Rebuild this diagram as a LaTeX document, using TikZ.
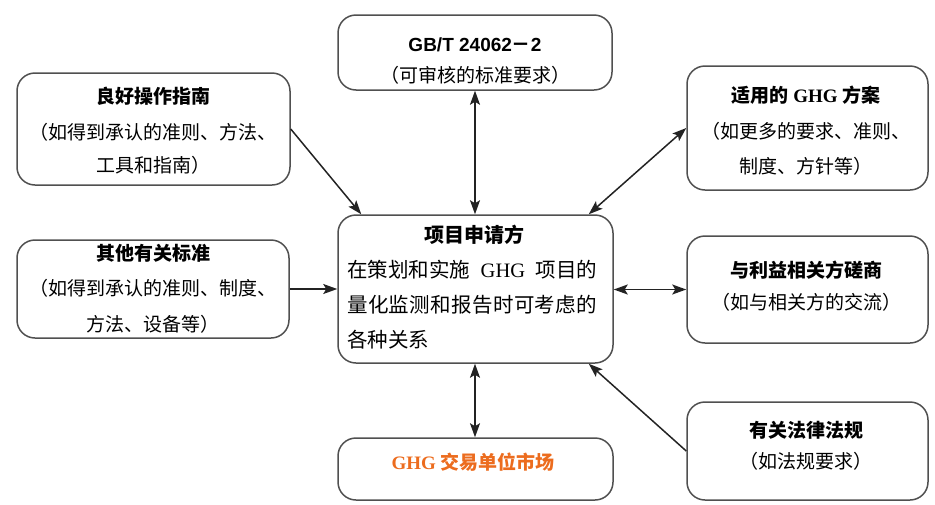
\documentclass[tikz,border=0pt]{standalone}
\usepackage{fontspec}
\usetikzlibrary{arrows.meta,calc}
\newfontfamily\cjk{Noto Sans CJK SC}
\newfontfamily\tnr{Liberation Serif}
\newfontfamily\ars{Liberation Sans}
\definecolor{boxc}{RGB}{80,80,80}
\definecolor{arrc}{RGB}{35,35,35}
\definecolor{orng}{RGB}{236,108,30}
\tikzset{
  box/.style={draw=boxc, line width=1.5pt, rounded corners=18pt, rectangle, inner sep=0pt},
  txt/.style={inner sep=0pt, text=black, font=\cjk\fontsize{19}{19}\selectfont},
  ttl/.style={inner sep=0pt, text=black, font=\cjk\bfseries\fontsize{19}{19}\selectfont},
  ctxt/.style={inner sep=0pt, text=black, anchor=west, font=\cjk\fontsize{20.5}{20.5}\selectfont},
  conn/.style={draw=arrc, line width=1.5pt},
  tip/.tip={Stealth[length=14pt,width=10pt,inset=3pt]},
  one/.style={conn, -tip},
  two/.style={conn, tip-tip}
}
\begin{document}
\begin{tikzpicture}[x=1pt,y=-1pt]
\useasboundingbox (0,0) rectangle (935,504);
% boxes
\node[box, minimum width=274pt, minimum height=75pt]  (gb)  at (475,52.5) {};
\node[box, minimum width=273pt, minimum height=112pt] (gp)  at (153.5,129) {};
\node[box, minimum width=241pt, minimum height=124pt] (ap)  at (807.5,128) {};
\node[box, minimum width=272pt, minimum height=98pt]  (oth) at (153,289) {};
\node[box, minimum width=275pt, minimum height=148pt] (ctr) at (475.5,289) {};
\node[box, minimum width=241pt, minimum height=107pt] (neg) at (807.5,289.5) {};
\node[box, minimum width=241pt, minimum height=98pt]  (law) at (807.5,451) {};
\node[box, minimum width=275pt, minimum height=62pt]  (mkt) at (475.5,469) {};
% texts
\node[ttl] (gbt) at (475,45) {\ars\bfseries GB/T 24062\cjk\bfseries －\ars\bfseries 2};
\node[txt] (gbs) at (475,75) {（可审核的标准要求）};

\node[ttl] (gpt) at (153,96) {良好操作指南};
\node[txt] (gp1) at (153,132) {（如得到承认的准则、方法、};
\node[txt] (gp2) at (153,165) {工具和指南）};

\node[ttl] (apt) at (806,95) {适用的 {\tnr\bfseries GHG} 方案};
\node[txt] (ap1) at (806,131) {（如更多的要求、准则、};
\node[txt] (ap2) at (806,166) {制度、方针等）};

\node[ttl] (otht) at (153,253) {其他有关标准};
\node[txt] (oth1) at (153,288) {（如得到承认的准则、制度、};
\node[txt] (oth2) at (153,324) {方法、设备等）};

\node[ttl, font=\cjk\bfseries\fontsize{20}{20}\selectfont] (ctrt) at (474,235) {项目申请方};
\node[ctxt] (c1) at (347,270) {\makebox[250pt][s]{在策划和实施\hfill{\tnr GHG}\hfill 项目的}};
\node[ctxt] (c2) at (347,305) {\makebox[250pt][s]{量\hfill 化\hfill 监\hfill 测\hfill 和\hfill 报\hfill 告\hfill 时\hfill 可\hfill 考\hfill 虑\hfill 的}};
\node[ctxt] (c3) at (347,340) {各种关系};

\node[ttl] (negt) at (806,270) {与利益相关方磋商};
\node[txt] (negs) at (806,302) {（如与相关方的交流）};

\node[ttl] (lawt) at (806,430) {有关法律法规};
\node[txt] (laws) at (806,461) {（如法规要求）};

\node[ttl, text=orng] (mktt) at (473,462) {{\tnr\bfseries GHG} 交易单位市场};
% connectors
\draw[two] (gb.south) -- (gb.south |- ctr.north);
\draw[one] (gp.east) -- ([xshift=24pt]ctr.north west);
\draw[two] ([xshift=-25pt]ctr.north east) -- (ap.west);
\draw[one] (oth.east) -- (oth.east -| ctr.west);
\draw[two] (ctr.east |- neg.west) -- (neg.west);
\draw[one] (law.west) -- ([xshift=-25pt]ctr.south east);
\draw[two] (gb.south |- ctr.south) -- (gb.south |- mkt.north);
\end{tikzpicture}
\end{document}
